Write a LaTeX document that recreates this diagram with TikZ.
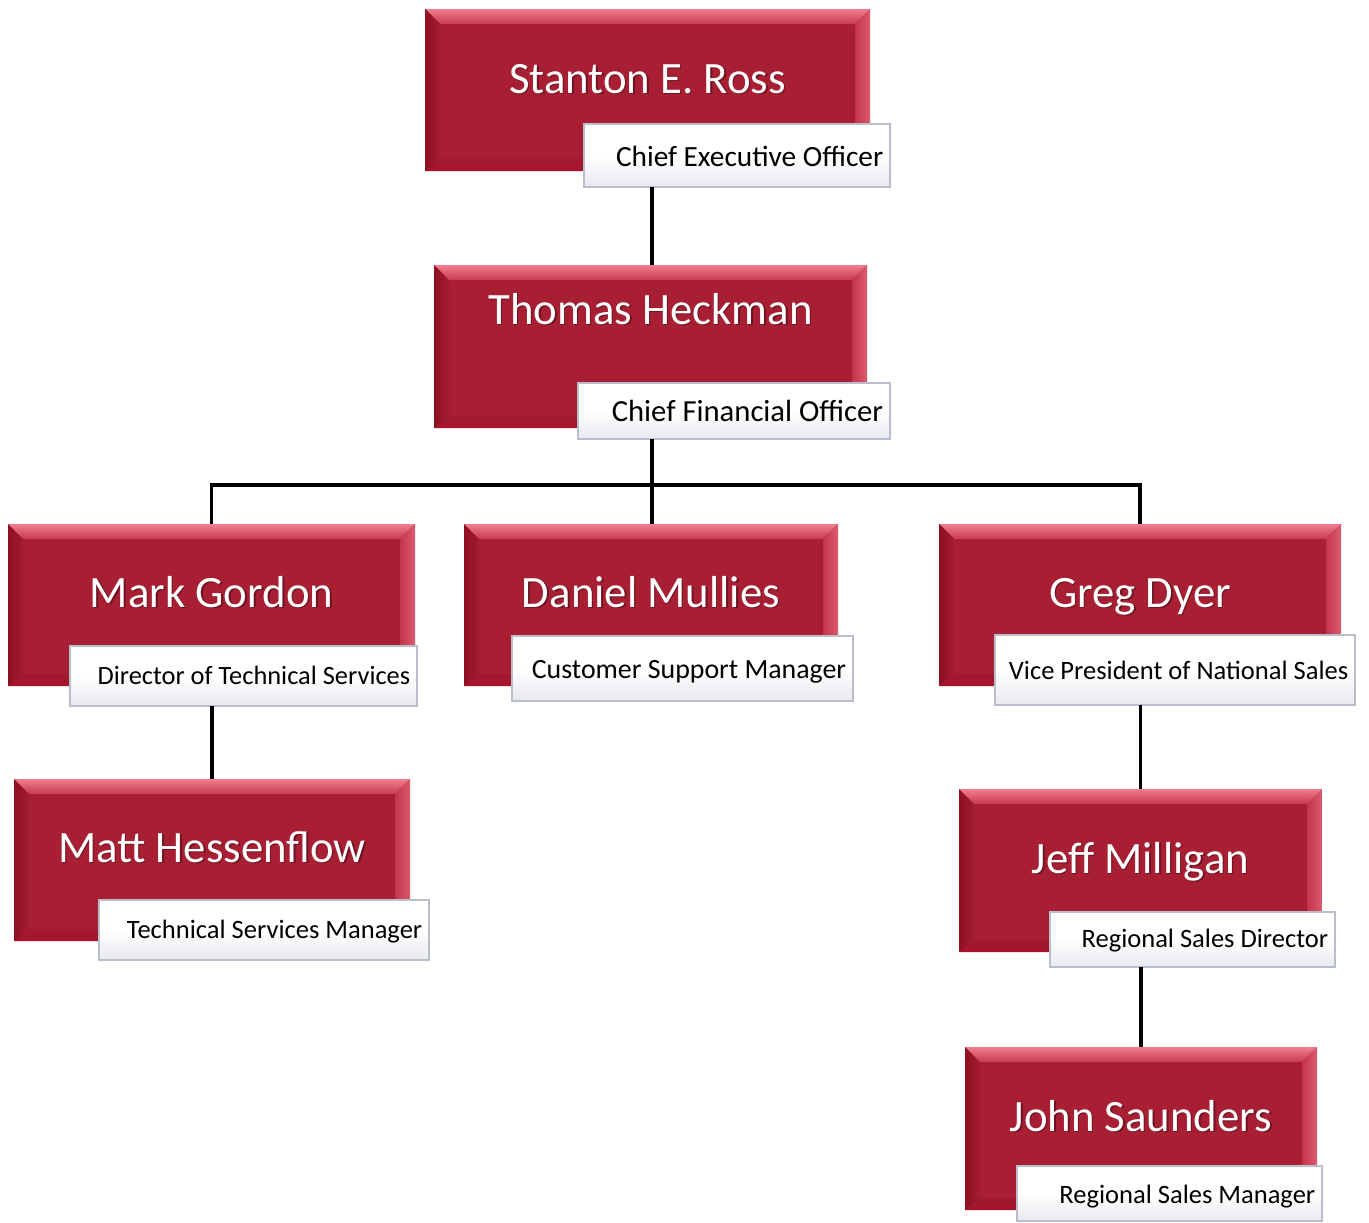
\documentclass[tikz,border=0pt]{standalone}
\usepackage{fontspec}
\setmainfont{Carlito}
\usetikzlibrary{calc,fit}
\definecolor{rbody}{HTML}{A81E33}
\definecolor{rtopA}{HTML}{F27D8E}
\definecolor{rtopB}{HTML}{C63A4F}
\definecolor{rrightA}{HTML}{C43449}
\definecolor{rrightB}{HTML}{DC5C70}
\definecolor{rleftA}{HTML}{8C1022}
\definecolor{rleftB}{HTML}{A41C30}
\definecolor{rbotA}{HTML}{A01A2E}
\definecolor{rbotB}{HTML}{A8132A}
\definecolor{labline}{HTML}{B9BDCC}
\definecolor{labbot}{HTML}{E8E9EF}
\tikzset{
  redbody/.style={inner sep=0pt, outer sep=0pt, fill=rbody},
  labbox/.style={inner sep=0pt, outer sep=0pt, draw=labline, line width=0.8pt, top color=white, bottom color=labbot, middle color=white},
  nametext/.style={inner sep=0pt, anchor=base, text=white, font=\fontsize{33.6}{36}\selectfont},
  namesh/.style={inner sep=0pt, anchor=base, text=black, opacity=0.35, font=\fontsize{33.6}{36}\selectfont},
  link/.style={line width=2.6pt, black},
}
% id, x1, y1, x2, y2, name, baseline y
\newcommand\orgbox[7]{%
  \node[redbody, fit={(#2,#3)(#4,#5)}] (#1) {};
  \shade[top color=rtopA, bottom color=rtopB] (#1.north west) -- (#1.north east) -- ($(#1.north east)+(-15,15)$) -- ($(#1.north west)+(15,15)$) -- cycle;
  \shade[left color=rrightA, right color=rrightB] (#1.north east) -- (#1.south east) -- ($(#1.south east)+(-15,-12)$) -- ($(#1.north east)+(-15,15)$) -- cycle;
  \shade[left color=rleftA, right color=rleftB] (#1.north west) -- ($(#1.north west)+(15,15)$) -- ($(#1.south west)+(15,-12)$) -- (#1.south west) -- cycle;
  \shade[top color=rbotA, bottom color=rbotB] (#1.south west) -- ($(#1.south west)+(15,-12)$) -- ($(#1.south east)+(-15,-12)$) -- (#1.south east) -- cycle;
  \node[namesh] (#1s) at ($(#1.north)+(1.5,#7-#3+1.5)$) {#6};
  \node[nametext] (#1n) at ($(#1.north)+(0,#7-#3)$) {#6};
}
% id, x1, y1, x2, y2, text, font pt, baseline y
\newcommand\labelbox[8]{%
  \node[labbox, fit={(#2,#3)(#4,#5)}] (#1) {};
  \node[anchor=base east, inner sep=0pt, font=\fontsize{#7}{#7}\selectfont] (#1t) at (#4-6.5,#8) {#6};
}
\begin{document}
\begin{tikzpicture}[x=0.75pt, y=-0.75pt]
\useasboundingbox[fill=white] (0,0) rectangle (1369,1222);

\orgbox{ross}{425}{9}{870}{171}{Stanton E. Ross}{93}
\labelbox{rossl}{584}{124}{890}{187}{Chief Executive Officer}{22}{166}

\orgbox{heck}{434}{265}{867}{428}{Thomas Heckman}{324}
\labelbox{heckl}{578}{383}{890}{439}{Chief Financial Officer}{23}{421}

\orgbox{gord}{8}{524}{415}{686}{Mark Gordon}{607}
\labelbox{gordl}{70}{646}{417}{706}{Director of Technical Services}{19.8}{684}

\orgbox{mull}{464}{524}{838}{686}{Daniel Mullies}{607}
\labelbox{mulll}{512}{636}{853}{701}{Customer Support Manager}{20.9}{678}

\orgbox{dyer}{939}{524}{1341}{686}{Greg Dyer}{607}
\labelbox{dyerl}{995}{635}{1355}{705}{Vice President of National Sales}{19.9}{679}

\orgbox{hess}{14}{779}{410}{941}{Matt Hessenflow}{862}
\labelbox{hessl}{99}{900}{429}{960}{Technical Services Manager}{19.9}{938}

\orgbox{mill}{959}{789}{1322}{952}{Jeff Milligan}{873}
\labelbox{milll}{1050}{912}{1335}{967}{Regional Sales Director}{19.9}{947}

\orgbox{saun}{965}{1047}{1317}{1210}{John Saunders}{1131}
\labelbox{saunl}{1017}{1166}{1322}{1221}{Regional Sales Manager}{19.9}{1203}

\coordinate (bus) at (652,485);
\draw[link] (rossl.south -| bus) -- (heck.north -| bus);
\draw[link] (heckl.south -| bus) -- (bus);
\draw[link] (gord.north) |- (bus) -| (dyer.north);
\draw[link] (bus) -- (bus |- mull.north);
\draw[link] (gordl.south -| hess.north) -- (hess.north);
\draw[link] (dyerl.south -| mill.north) -- (mill.north);
\draw[link] (milll.south -| saun.north) -- (saun.north);
\end{tikzpicture}
\end{document}
